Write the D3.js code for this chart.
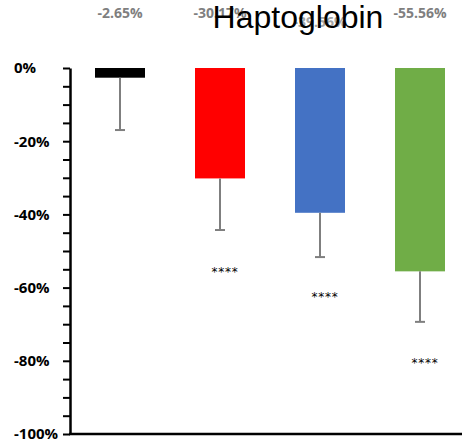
<!DOCTYPE html>
<html>
<head>
<meta charset="utf-8">
<script src="https://cdn.jsdelivr.net/npm/d3@7"></script>
<style>
  body { margin: 0; background: #fff; }
  svg { display: block; }
</style>
</head>
<body>
<div id="chart"></div>
<script>
// Data.
const groups = ["G1", "G2", "G3", "G4"];
const means = [-2.65, -30.17, -39.56, -55.56];
const errors = [14.3, 14.1, 12.1, 13.8];
const labels = ["-2.65%", "-30.17%", "-39.56%", "-55.56%"];
const colors = ["#000000", "#ff0000", "#4472c4", "#70ad47"];
const stars = ["", "****", "****", "****"];
const starLevels = [null, -55.2, -62.0, -80.1];
const yTicks = [0, -20, -40, -60, -80, -100];

const width = 462, height = 448;
const margin = { top: 68, right: 0, bottom: 14, left: 70 };

const svg = d3.select("#chart").append("svg")
  .attr("width", width)
  .attr("height", height);

// Scales.
const x = d3.scaleBand()
  .domain(groups)
  .range([margin.left, margin.left + 400])
  .paddingInner(0.5)
  .paddingOuter(0.25);

const y = d3.scaleLinear()
  .domain([0, -100])
  .range([margin.top, height - margin.bottom]);

// Bars hang down from 0%.
svg.selectAll("rect.bar")
  .data(groups)
  .enter()
  .append("rect")
  .attr("class", "bar")
  .attr("x", d => x(d))
  .attr("y", y(0))
  .attr("width", x.bandwidth())
  .attr("height", (d, i) => y(means[i]) - y(0))
  .attr("fill", (d, i) => colors[i]);

// Error bars (downward only).
const err = svg.append("g")
  .attr("stroke", "#7f7f7f")
  .attr("stroke-width", 2);
groups.forEach((g, i) => {
  const cx = x(g) + x.bandwidth() / 2;
  err.append("line")
    .attr("x1", cx).attr("x2", cx)
    .attr("y1", y(means[i])).attr("y2", y(means[i] - errors[i]));
  err.append("line")
    .attr("x1", cx - 5).attr("x2", cx + 5)
    .attr("y1", y(means[i] - errors[i])).attr("y2", y(means[i] - errors[i]));
});

// Significance stars.
svg.selectAll("text.star")
  .data(groups.filter((g, i) => stars[i]))
  .enter()
  .append("text")
  .attr("class", "star")
  .attr("x", d => x(d) + x.bandwidth() / 2 + 5)
  .attr("y", d => y(starLevels[groups.indexOf(d)]) + 6)
  .attr("text-anchor", "middle")
  .style("font-family", "'DejaVu Sans', sans-serif")
  .style("font-size", "12px")
  .style("letter-spacing", "0.8px")
  .style("fill", "#000")
  .text(d => stars[groups.indexOf(d)]);

// Y axis with minor ticks every 5%.
const yAxis = svg.append("g")
  .attr("transform", `translate(${margin.left},0)`)
  .call(d3.axisLeft(y)
    .tickValues(d3.range(0, -101, -5))
    .tickSize(7)
    .tickSizeOuter(0)
    .tickFormat(d => yTicks.includes(d) ? d + "%" : ""));
yAxis.select(".domain").attr("stroke", "#000").attr("stroke-width", 2.5);
yAxis.selectAll(".tick line").attr("stroke", "#000").attr("stroke-width", 2);
yAxis.selectAll(".tick text")
  .attr("x", -56)
  .attr("text-anchor", "start")
  .style("font-family", "'Open Sans', sans-serif")
  .style("font-weight", "bold")
  .style("font-size", "15px")
  .style("fill", "#000");

// X baseline at -100%.
svg.append("line")
  .attr("x1", margin.left - 1)
  .attr("x2", width)
  .attr("y1", y(-100))
  .attr("y2", y(-100))
  .attr("stroke", "#000")
  .attr("stroke-width", 2.5);

// Value labels at the top.
svg.selectAll("text.val")
  .data(groups)
  .enter()
  .append("text")
  .attr("class", "val")
  .attr("x", d => x(d) + x.bandwidth() / 2)
  .attr("y", (d, i) => i === 2 ? 27 : 18)
  .attr("text-anchor", "middle")
  .style("font-family", "'Open Sans', sans-serif")
  .style("font-weight", "bold")
  .style("font-size", "14px")
  .style("fill", (d, i) => i === 2 ? "#a6a6a6" : "#7f7f7f")
  .text((d, i) => labels[i]);

// Title drawn on top.
svg.append("text")
  .attr("x", 298)
  .attr("y", 28)
  .attr("text-anchor", "middle")
  .style("font-family", "'Liberation Sans', Arial, sans-serif")
  .style("font-size", "32px")
  .style("fill", "#000")
  .text("Haptoglobin");
</script>
</body>
</html>
